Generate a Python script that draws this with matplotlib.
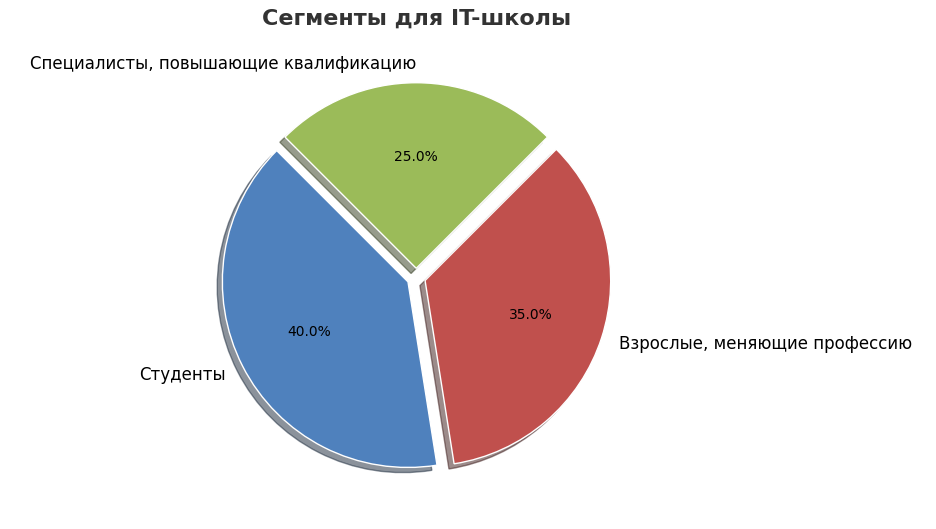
import matplotlib.pyplot as plt

labels = ["Студенты", "Взрослые, меняющие профессию", "Специалисты, повышающие квалификацию"]
shares = [40, 35, 25]
colors = ["#4F81BD", "#C0504D", "#9BBB59"]
explode = [0.05, 0.05, 0.05]

fig, ax = plt.subplots(figsize=(9.36, 5.29), dpi=100)
ax.pie(shares, labels=labels, colors=colors, explode=explode, autopct="%1.1f%%",
       startangle=135, shadow=True, wedgeprops={"edgecolor": "white", "linewidth": 1},
       textprops={"fontsize": 12})
for t in ax.texts:
    if t.get_text().endswith("%"):
        t.set_fontsize(10)
ax.set_title("Сегменты для IT-школы", fontsize=16, fontweight="bold", color="#333333", pad=28)
ax.axis("equal")
plt.subplots_adjust(left=0.05, right=0.84, top=0.88, bottom=0.08)
plt.savefig("out.png")
